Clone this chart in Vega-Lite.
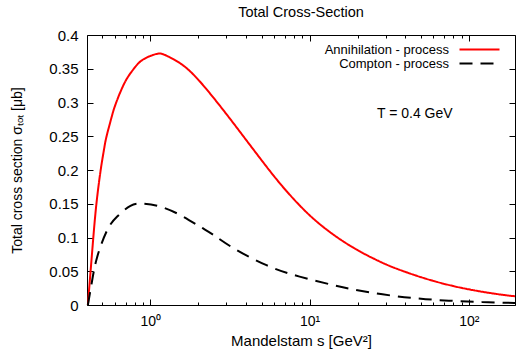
{
  "$schema": "https://vega.github.io/schema/vega-lite/v6.json",
  "width": 428,
  "height": 270,
  "autosize": "none",
  "padding": {"left": 87, "top": 35, "right": 1, "bottom": 47},
  "title": {"text": "Total Cross-Section", "fontSize": 14.5, "fontWeight": "normal", "font": "Liberation Sans", "offset": 8, "color": "#000"},
  "config": {
    "view": {"stroke": "#000", "strokeWidth": 1},
    "axis": {"grid": false, "domain": false, "labelFont": "Liberation Sans", "titleFont": "Liberation Sans", "labelFontSize": 15, "titleFontSize": 14, "titleFontWeight": "normal", "labelColor": "#000", "titleColor": "#000", "tickColor": "#000", "tickWidth": 1},
    "legend": {"orient": "none", "legendX": 386, "legendY": 8, "title": null, "symbolType": "M-4,0H4", "symbolSize": 100, "symbolStrokeWidth": 2, "labelAlign": "right", "labelOffset": -37, "labelFontSize": 13, "labelFont": "Liberation Sans", "labelColor": "#000", "padding": 0, "rowPadding": -2}
  },
  "datasets": {
    "curves": [
      {"process": "Annihilation - process", "s": 0.405, "sigma": 0},
      {"process": "Annihilation - process", "s": 0.413, "sigma": 0.025},
      {"process": "Annihilation - process", "s": 0.4246, "sigma": 0.06},
      {"process": "Annihilation - process", "s": 0.4365, "sigma": 0.095},
      {"process": "Annihilation - process", "s": 0.4487, "sigma": 0.128},
      {"process": "Annihilation - process", "s": 0.4634, "sigma": 0.16},
      {"process": "Annihilation - process", "s": 0.4875, "sigma": 0.2},
      {"process": "Annihilation - process", "s": 0.5129, "sigma": 0.232},
      {"process": "Annihilation - process", "s": 0.5309, "sigma": 0.25},
      {"process": "Annihilation - process", "s": 0.5689, "sigma": 0.277},
      {"process": "Annihilation - process", "s": 0.6081, "sigma": 0.299},
      {"process": "Annihilation - process", "s": 0.6918, "sigma": 0.33},
      {"process": "Annihilation - process", "s": 0.7816, "sigma": 0.349},
      {"process": "Annihilation - process", "s": 0.8913, "sigma": 0.363},
      {"process": "Annihilation - process", "s": 1.096, "sigma": 0.372},
      {"process": "Annihilation - process", "s": 1.259, "sigma": 0.3695},
      {"process": "Annihilation - process", "s": 1.585, "sigma": 0.356},
      {"process": "Annihilation - process", "s": 1.995, "sigma": 0.334},
      {"process": "Annihilation - process", "s": 2.512, "sigma": 0.306},
      {"process": "Annihilation - process", "s": 3.162, "sigma": 0.276},
      {"process": "Annihilation - process", "s": 3.981, "sigma": 0.245},
      {"process": "Annihilation - process", "s": 5.012, "sigma": 0.214},
      {"process": "Annihilation - process", "s": 6.31, "sigma": 0.184},
      {"process": "Annihilation - process", "s": 7.943, "sigma": 0.157},
      {"process": "Annihilation - process", "s": 10, "sigma": 0.133},
      {"process": "Annihilation - process", "s": 12.59, "sigma": 0.113},
      {"process": "Annihilation - process", "s": 15.85, "sigma": 0.096},
      {"process": "Annihilation - process", "s": 19.95, "sigma": 0.0815},
      {"process": "Annihilation - process", "s": 25.12, "sigma": 0.069},
      {"process": "Annihilation - process", "s": 31.62, "sigma": 0.0582},
      {"process": "Annihilation - process", "s": 39.81, "sigma": 0.0492},
      {"process": "Annihilation - process", "s": 50.12, "sigma": 0.0412},
      {"process": "Annihilation - process", "s": 63.1, "sigma": 0.0342},
      {"process": "Annihilation - process", "s": 79.43, "sigma": 0.0282},
      {"process": "Annihilation - process", "s": 100, "sigma": 0.0232},
      {"process": "Annihilation - process", "s": 125.9, "sigma": 0.019},
      {"process": "Annihilation - process", "s": 158.5, "sigma": 0.0155},
      {"process": "Annihilation - process", "s": 195, "sigma": 0.0129},
      {"process": "Compton - process", "s": 0.405, "sigma": 0},
      {"process": "Compton - process", "s": 0.43, "sigma": 0.035},
      {"process": "Compton - process", "s": 0.464, "sigma": 0.0716},
      {"process": "Compton - process", "s": 0.536, "sigma": 0.111},
      {"process": "Compton - process", "s": 0.619, "sigma": 0.131},
      {"process": "Compton - process", "s": 0.75, "sigma": 0.147},
      {"process": "Compton - process", "s": 0.908, "sigma": 0.15},
      {"process": "Compton - process", "s": 1.155, "sigma": 0.1457},
      {"process": "Compton - process", "s": 1.54, "sigma": 0.1333},
      {"process": "Compton - process", "s": 2.05, "sigma": 0.116},
      {"process": "Compton - process", "s": 2.512, "sigma": 0.1032},
      {"process": "Compton - process", "s": 3.31, "sigma": 0.0845},
      {"process": "Compton - process", "s": 5.36, "sigma": 0.059},
      {"process": "Compton - process", "s": 8.66, "sigma": 0.042},
      {"process": "Compton - process", "s": 14.0, "sigma": 0.0296},
      {"process": "Compton - process", "s": 18.6, "sigma": 0.0232},
      {"process": "Compton - process", "s": 28.7, "sigma": 0.0158},
      {"process": "Compton - process", "s": 46.4, "sigma": 0.0099},
      {"process": "Compton - process", "s": 75, "sigma": 0.0064},
      {"process": "Compton - process", "s": 121, "sigma": 0.0044},
      {"process": "Compton - process", "s": 195, "sigma": 0.003}
    ]
  },
  "layer": [
    {
      "data": {"name": "curves"},
      "mark": {"type": "line", "strokeWidth": 2, "interpolate": "natural"},
      "encoding": {
        "x": {"field": "s", "type": "quantitative", "scale": {"type": "log", "domain": [0.4, 195], "nice": false},
          "axis": {"orient": "bottom", "values": [1, 10, 100], "labelExpr": "datum.value == 1 ? '10⁰' : datum.value == 10 ? '10¹' : '10²'", "labelFontSize": 14, "tickSize": -6, "labelPadding": 15, "title": "Mandelstam s [GeV²]", "titleFontSize": 15, "titlePadding": 5}},
        "y": {"field": "sigma", "type": "quantitative", "scale": {"domain": [0, 0.4], "nice": false},
          "axis": {"orient": "left", "values": [0, 0.05, 0.1, 0.15, 0.2, 0.25, 0.3, 0.35, 0.4], "labelExpr": "'' + datum.value", "tickSize": -6, "labelPadding": 15, "title": "Total cross section σₜₒₜ [μb]", "titlePadding": 24}},
        "color": {"field": "process", "type": "nominal", "scale": {"domain": ["Annihilation - process", "Compton - process"], "range": ["#ff0000", "#000000"]}},
        "strokeDash": {"field": "process", "type": "nominal", "scale": {"domain": ["Annihilation - process", "Compton - process"], "range": [[1, 0], [13, 8]]}}
      }
    },
    {
      "data": {"name": "curves"},
      "mark": {"type": "point", "opacity": 0},
      "encoding": {
        "x": {"field": "s", "type": "quantitative", "axis": {"orient": "bottom", "values": [0.5, 0.6, 0.7, 0.8, 0.9, 2, 3, 4, 5, 6, 7, 8, 9, 20, 30, 40, 50, 60, 70, 80, 90], "labels": false, "tickSize": -3, "title": null}},
        "y": {"field": "sigma", "type": "quantitative", "axis": {"orient": "right", "values": [0, 0.05, 0.1, 0.15, 0.2, 0.25, 0.3, 0.35, 0.4], "labels": false, "tickSize": -6, "title": null}}
      }
    },
    {
      "data": {"name": "curves"},
      "mark": {"type": "point", "opacity": 0},
      "encoding": {
        "x": {"field": "s", "type": "quantitative", "axis": {"orient": "top", "values": [1, 10, 100], "labels": false, "tickSize": -6, "title": null}},
        "y": {"field": "sigma", "type": "quantitative", "axis": null}
      }
    },
    {
      "data": {"name": "curves"},
      "mark": {"type": "point", "opacity": 0},
      "encoding": {
        "x": {"field": "s", "type": "quantitative", "axis": {"orient": "top", "values": [0.5, 0.6, 0.7, 0.8, 0.9, 2, 3, 4, 5, 6, 7, 8, 9, 20, 30, 40, 50, 60, 70, 80, 90], "labels": false, "tickSize": -3, "title": null}},
        "y": {"field": "sigma", "type": "quantitative", "axis": null}
      }
    },
    {
      "data": {"values": [{}]},
      "mark": {"type": "text", "text": "T = 0.4 GeV", "align": "left", "baseline": "middle", "fontSize": 14, "font": "Liberation Sans", "color": "#000"},
      "encoding": {
        "x": {"datum": 26.5, "type": "quantitative", "axis": null},
        "y": {"datum": 0.283, "type": "quantitative", "axis": null}
      }
    }
  ],
  "resolve": {"axis": {"x": "independent", "y": "independent"}}
}
